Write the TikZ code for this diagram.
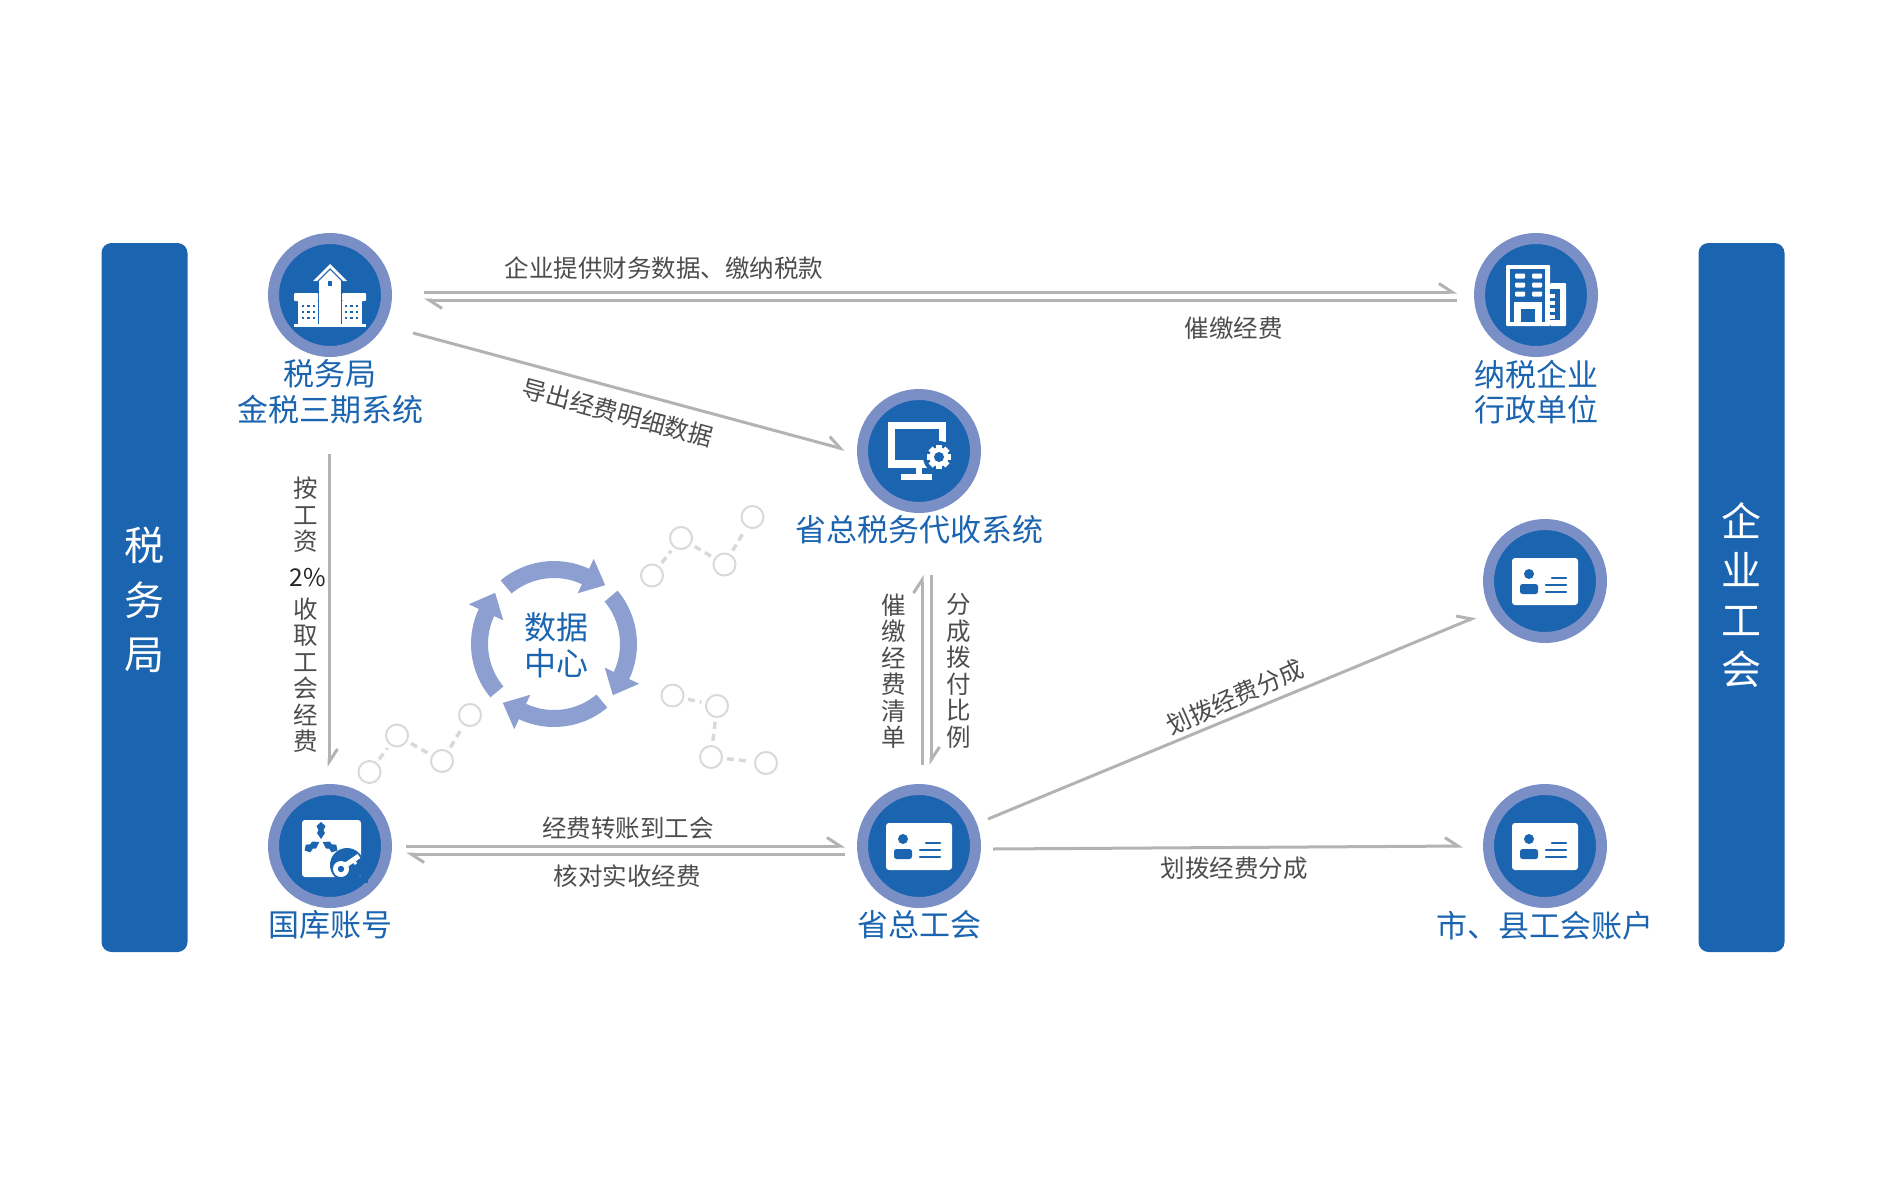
\documentclass[tikz,border=0pt]{standalone}
\usepackage{fontspec}
\setmainfont{Noto Sans CJK SC}
\definecolor{clHub}{HTML}{1B64B0}
\definecolor{clRing}{HTML}{7B8FC7}
\definecolor{clCycle}{HTML}{8D9FD1}
\definecolor{clFlow}{HTML}{B3B3B3}
\definecolor{clNote}{HTML}{4D4D4D}
\definecolor{clDot}{HTML}{D9D9D9}
\usetikzlibrary{arrows.meta,positioning}
\tikzset{
  hub/.style={circle, draw=clRing, fill=clHub, line width=11pt, minimum size=113pt, inner sep=0pt, outer sep=0pt},
  hublabel/.style={align=center, inner sep=0pt, text=clHub, font=\fontsize{31}{35.5}\selectfont},
  sidebar/.style={rectangle, rounded corners=10pt, fill=clHub, minimum width=86pt, minimum height=709pt, inner sep=0pt},
  sidetext/.style={align=center, inner sep=0pt, text=white},
  flow/.style={-{Straight Barb[left,length=13pt,width=17pt,line width=3pt]}, line width=3pt, draw=clFlow},
  flowlabel/.style={inner sep=0pt, text=clNote, font=\fontsize{24.5}{26.5}\selectfont},
  stacklabel/.style={flowlabel, align=center},
  dotnode/.style={circle, draw=clDot, line width=2pt, minimum size=22pt, inner sep=0pt},
  dotlink/.style={draw=clDot, line width=3.5pt, dash pattern=on 7pt off 5pt, shorten <=4pt, shorten >=4pt},
  schoolhouse/.pic={
    \fill[white] (-11,-14) rectangle (11,30);
    \fill[white] (0,-31) -- (17,-14) -- (13,-14) -- (0,-27) -- (-13,-14) -- (-17,-14) -- cycle;
    \fill[white] (0,-25) -- (11,-14) -- (-11,-14) -- cycle;
    \fill[clHub] (-2,-14) rectangle (2,-9);
    \foreach \sgn in {-1,1} {
      \fill[white, rounded corners=1pt] (\sgn*12,-2) rectangle (\sgn*36,6);
      \fill[white] (\sgn*12,6) rectangle (\sgn*32,30);
      \foreach \wx in {16,21.5,27} \foreach \wy in {11,17,23}
        \fill[clHub] (\sgn*\wx-1.4,\wy-1.4) rectangle (\sgn*\wx+1.4,\wy+1.4);
    }
    \fill[white] (-36,29) rectangle (36,32);
  },
  officeblock/.pic={
    \fill[white, rounded corners=1pt] (-30,-30) rectangle (14,31);
    \fill[clHub] (-26,-26) rectangle (9,27);
    \foreach \wy in {-19,-10,-1} {
      \fill[white, rounded corners=1pt] (-21,\wy-2.5) rectangle (-11,\wy+2.5);
      \fill[white, rounded corners=1pt] (-4,\wy-2.5) rectangle (6,\wy+2.5);
    }
    \fill[white] (-22,7) rectangle (6,27);
    \fill[clHub] (-15,14) rectangle (-1,27);
    \fill[white, rounded corners=1pt] (14,-12) rectangle (30,31);
    \fill[clHub] (14,-6) rectangle (24,25);
    \foreach \wy in {-1,6,13,20}
      \fill[white] (14,\wy) rectangle (19,\wy+3.5);
  },
  monitorgear/.pic={
    \fill[white] (-31,-29) rectangle (27,17);
    \fill[clHub] (-24,-22) rectangle (20,9);
    \fill[clHub] (20,6) circle[radius=16];
    \fill[clHub] (16,-9) rectangle (30,20);
    \fill[white] (-3,15) rectangle (3,24);
    \fill[white] (-18,23) rectangle (13,29);
    \foreach \ang in {0,45,...,315}
      \fill[white, shift={(20,6)}, rotate=\ang] (-3,-12) rectangle (3,0);
    \fill[white] (20,6) circle[radius=9.5];
    \fill[clHub] (20,6) circle[radius=5];
  },
  vaultkey/.pic={
    \fill[white, rounded corners=3pt] (-28,-26) rectangle (31,31);
    \fill[clHub] (17,19) circle[radius=17];
    \fill[clHub] (34,2) rectangle (38,36);
    \fill[clHub] (10,32) rectangle (38,37);
    \foreach \ang in {0,120,240}
      \fill[clHub, shift={(-9,-5)}, rotate=\ang] (0,-2) -- (-4,-8) -- (-2.5,-11) -- (-4.5,-15) -- (0,-19) -- (4.5,-15) -- (2.5,-11) -- (4,-8) -- cycle;
    \draw[white, line width=5pt] (13,21) -- (29,10);
    \draw[white, line width=3pt] (23,14) -- (26,18);
    \fill[white] (11,23) circle[radius=8];
    \fill[clHub] (11,23) circle[radius=3.2];
  },
  idcard/.pic={
    \fill[white, rounded corners=3pt] (-33,-23) rectangle (33,24);
    \fill[clHub] (-16,-7) circle[radius=5];
    \fill[clHub, rounded corners=2.5pt] (-25,13) -- (-25,3) -- (-7,3) -- (-7,13) -- cycle;
    \draw[clHub, line width=2.5pt, line cap=round] (7,-3) -- (21,-3);
    \draw[clHub, line width=2.5pt, line cap=round] (1,4) -- (21,4);
    \draw[clHub, line width=2.5pt, line cap=round] (1,11) -- (21,11);
  },
}
\begin{document}
\begin{tikzpicture}[x=1pt, y=-1pt]
  \useasboundingbox (0,0) rectangle (1900,1191);
  % side bars
  \node[sidebar] (barleft) at (144.5,597.5) {};
  \node[sidebar] (barright) at (1741.5,597.5) {};
  \node[sidetext, font=\fontsize{40}{54.5}\selectfont] (barlefttext) at (144,600) {税\\务\\局};
  \node[sidetext, font=\fontsize{40}{49.5}\selectfont] (barrighttext) at (1741.5,595) {企\\业\\工\\会};
  % hubs
  \node[hub] (tax) at (330,295) {};
  \node[hub] (corp) at (1536,295) {};
  \node[hub] (agent) at (919,451) {};
  \node[hub] (branch) at (1545,581) {};
  \node[hub] (bank) at (330,846) {};
  \node[hub] (union) at (919,846) {};
  \node[hub] (city) at (1545,846) {};
  \pic at (tax) {schoolhouse};
  \pic at (corp) {officeblock};
  \pic at (agent) {monitorgear};
  \pic at (bank) {vaultkey};
  \pic at (branch) {idcard};
  \pic at (union) {idcard};
  \pic at (city) {idcard};
  \node[hublabel, below=8pt of tax] (taxlabel) {税务局\\金税三期系统};
  \node[hublabel, below=8pt of corp] (corplabel) {纳税企业\\行政单位};
  \node[hublabel, below=8pt of agent] (agentlabel) {省总税务代收系统};
  \node[hublabel, below=8pt of bank] (banklabel) {国库账号};
  \node[hublabel, below=8pt of union] (unionlabel) {省总工会};
  \node[hublabel, below=8pt of city] (citylabel) {市、县工会账户};
  % data centre
  \node[hublabel, font=\fontsize{32}{36}\selectfont] (data) at (556,645) {数据\\中心};
  \begin{scope}[shift={(554,644)}, y=1pt]
    \foreach \turn in {0,90,180,270}
      \fill[clCycle, rotate=\turn] (130:83) arc[start angle=130, end angle=65, radius=83]
        -- (65:94) -- (49:78) -- (65:56) -- (65:66)
        arc[start angle=65, end angle=130, radius=66] -- cycle;
  \end{scope}
  % dot chains
  \node[dotnode] (a1) at (652,575.5) {};
  \node[dotnode] (a2) at (681,538) {};
  \node[dotnode] (a3) at (724.5,564.5) {};
  \node[dotnode] (a4) at (752.5,517) {};
  \node[dotnode] (b1) at (672.5,695.5) {};
  \node[dotnode] (b2) at (717,706) {};
  \node[dotnode] (b3) at (711,757) {};
  \node[dotnode] (b4) at (766,763) {};
  \node[dotnode] (c1) at (369.5,772) {};
  \node[dotnode] (c2) at (397,735.5) {};
  \node[dotnode] (c3) at (442,761) {};
  \node[dotnode] (c4) at (470,715) {};
  \foreach \chain in {a,b,c} {
    \draw[dotlink] (\chain1) -- (\chain2);
    \draw[dotlink] (\chain2) -- (\chain3);
    \draw[dotlink] (\chain3) -- (\chain4);
  }
  % flows
  \draw[flow] ([shift={(94,-3)}]tax.center) -- ([shift={(-79,-3)}]corp.center);
  \draw[flow] ([shift={(-79,5)}]corp.center) -- ([shift={(94,5)}]tax.center);
  \draw[flow] ([shift={(83,38)}]tax.center) -- ([shift={(-74,-1.5)}]agent.center);
  \draw[flow] ([shift={(-1,159)}]tax.center) -- ([shift={(-1,-79)}]bank.center);
  \draw[flow] ([shift={(3,-81)}]union.center) -- ([shift={(3,124)}]agent.center);
  \draw[flow] ([shift={(12,124)}]agent.center) -- ([shift={(12,-81)}]union.center);
  \draw[flow] ([shift={(76,0)}]bank.center) -- ([shift={(-74,0)}]union.center);
  \draw[flow] ([shift={(-74,8)}]union.center) -- ([shift={(76,8)}]bank.center);
  \draw[flow] ([shift={(69,-27)}]union.center) -- ([shift={(-69,36)}]branch.center);
  \draw[flow] ([shift={(74,3)}]union.center) -- ([shift={(-82,0)}]city.center);
  % flow labels
  \node[flowlabel] (note1) at (664,268) {企业提供财务数据、缴纳税款};
  \node[flowlabel] (note2) at (1233.5,328) {催缴经费};
  \node[flowlabel, rotate=-15] (note3) at (618,413) {导出经费明细数据};
  \node[stacklabel] (note4) at (306,515) {按\\工\\资};
  \node[flowlabel, text=black!85] (note5) at (308,578) {2\%};
  \node[stacklabel] (note6) at (306,675) {收\\取\\工\\会\\经\\费};
  \node[stacklabel] (note7) at (894,671) {催\\缴\\经\\费\\清\\单};
  \node[stacklabel] (note8) at (959,671) {分\\成\\拨\\付\\比\\例};
  \node[flowlabel] (note9) at (628,828) {经费转账到工会};
  \node[flowlabel] (note10) at (627,876) {核对实收经费};
  \node[flowlabel, rotate=24] (note11) at (1235,697) {划拨经费分成};
  \node[flowlabel] (note12) at (1234,868) {划拨经费分成};
\end{tikzpicture}
\end{document}
